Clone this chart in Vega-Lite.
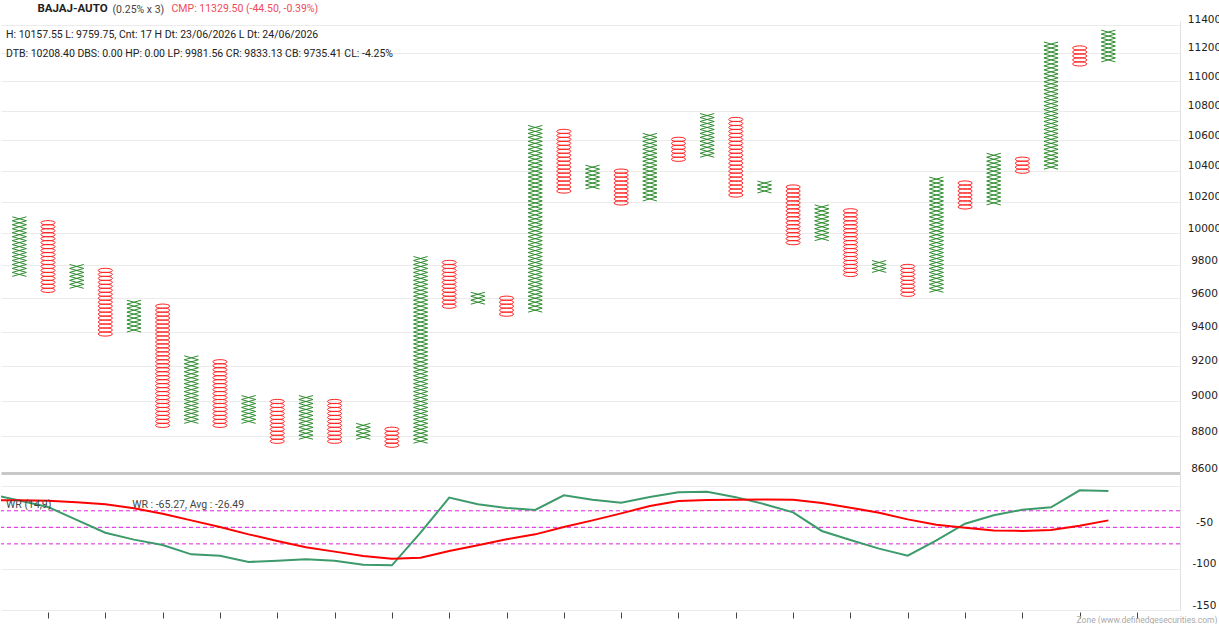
{
  "$schema": "https://vega.github.io/schema/vega-lite/v6.json",
  "padding": {"left": 0, "top": 3, "right": 0, "bottom": 0},
  "background": "#ffffff",
  "title": {
    "text": "(0.25% x 3)",
    "anchor": "start",
    "dx": 112,
    "offset": -12,
    "font": "Roboto",
    "fontSize": 10.5,
    "fontWeight": "normal",
    "color": "#444444"
  },
  "datasets": {
    "xs": [
      {"c":0,"b":50},{"c":0,"b":51},{"c":0,"b":52},{"c":0,"b":53},{"c":0,"b":54},{"c":0,"b":55},{"c":0,"b":56},{"c":0,"b":57},{"c":0,"b":58},{"c":0,"b":59},{"c":0,"b":60},{"c":0,"b":61},{"c":0,"b":62},{"c":0,"b":63},{"c":0,"b":64},
      {"c":2,"b":47},{"c":2,"b":48},{"c":2,"b":49},{"c":2,"b":50},{"c":2,"b":51},{"c":2,"b":52},
      {"c":4,"b":36},{"c":4,"b":37},{"c":4,"b":38},{"c":4,"b":39},{"c":4,"b":40},{"c":4,"b":41},{"c":4,"b":42},{"c":4,"b":43},
      {"c":6,"b":13},{"c":6,"b":14},{"c":6,"b":15},{"c":6,"b":16},{"c":6,"b":17},{"c":6,"b":18},{"c":6,"b":19},{"c":6,"b":20},{"c":6,"b":21},{"c":6,"b":22},{"c":6,"b":23},{"c":6,"b":24},{"c":6,"b":25},{"c":6,"b":26},{"c":6,"b":27},{"c":6,"b":28},{"c":6,"b":29},
      {"c":8,"b":13},{"c":8,"b":14},{"c":8,"b":15},{"c":8,"b":16},{"c":8,"b":17},{"c":8,"b":18},{"c":8,"b":19},
      {"c":10,"b":9},{"c":10,"b":10},{"c":10,"b":11},{"c":10,"b":12},{"c":10,"b":13},{"c":10,"b":14},{"c":10,"b":15},{"c":10,"b":16},{"c":10,"b":17},{"c":10,"b":18},{"c":10,"b":19},
      {"c":12,"b":9},{"c":12,"b":10},{"c":12,"b":11},{"c":12,"b":12},
      {"c":14,"b":8},{"c":14,"b":9},{"c":14,"b":10},{"c":14,"b":11},{"c":14,"b":12},{"c":14,"b":13},{"c":14,"b":14},{"c":14,"b":15},{"c":14,"b":16},{"c":14,"b":17},{"c":14,"b":18},{"c":14,"b":19},{"c":14,"b":20},{"c":14,"b":21},{"c":14,"b":22},{"c":14,"b":23},{"c":14,"b":24},{"c":14,"b":25},{"c":14,"b":26},{"c":14,"b":27},{"c":14,"b":28},{"c":14,"b":29},{"c":14,"b":30},{"c":14,"b":31},{"c":14,"b":32},{"c":14,"b":33},{"c":14,"b":34},{"c":14,"b":35},{"c":14,"b":36},{"c":14,"b":37},{"c":14,"b":38},{"c":14,"b":39},{"c":14,"b":40},{"c":14,"b":41},{"c":14,"b":42},{"c":14,"b":43},{"c":14,"b":44},{"c":14,"b":45},{"c":14,"b":46},{"c":14,"b":47},{"c":14,"b":48},{"c":14,"b":49},{"c":14,"b":50},{"c":14,"b":51},{"c":14,"b":52},{"c":14,"b":53},{"c":14,"b":54},
      {"c":16,"b":43},{"c":16,"b":44},{"c":16,"b":45},
      {"c":18,"b":41},{"c":18,"b":42},{"c":18,"b":43},{"c":18,"b":44},{"c":18,"b":45},{"c":18,"b":46},{"c":18,"b":47},{"c":18,"b":48},{"c":18,"b":49},{"c":18,"b":50},{"c":18,"b":51},{"c":18,"b":52},{"c":18,"b":53},{"c":18,"b":54},{"c":18,"b":55},{"c":18,"b":56},{"c":18,"b":57},{"c":18,"b":58},{"c":18,"b":59},{"c":18,"b":60},{"c":18,"b":61},{"c":18,"b":62},{"c":18,"b":63},{"c":18,"b":64},{"c":18,"b":65},{"c":18,"b":66},{"c":18,"b":67},{"c":18,"b":68},{"c":18,"b":69},{"c":18,"b":70},{"c":18,"b":71},{"c":18,"b":72},{"c":18,"b":73},{"c":18,"b":74},{"c":18,"b":75},{"c":18,"b":76},{"c":18,"b":77},{"c":18,"b":78},{"c":18,"b":79},{"c":18,"b":80},{"c":18,"b":81},{"c":18,"b":82},{"c":18,"b":83},{"c":18,"b":84},{"c":18,"b":85},{"c":18,"b":86},{"c":18,"b":87},
      {"c":20,"b":72},{"c":20,"b":73},{"c":20,"b":74},{"c":20,"b":75},{"c":20,"b":76},{"c":20,"b":77},
      {"c":22,"b":69},{"c":22,"b":70},{"c":22,"b":71},{"c":22,"b":72},{"c":22,"b":73},{"c":22,"b":74},{"c":22,"b":75},{"c":22,"b":76},{"c":22,"b":77},{"c":22,"b":78},{"c":22,"b":79},{"c":22,"b":80},{"c":22,"b":81},{"c":22,"b":82},{"c":22,"b":83},{"c":22,"b":84},{"c":22,"b":85},
      {"c":24,"b":80},{"c":24,"b":81},{"c":24,"b":82},{"c":24,"b":83},{"c":24,"b":84},{"c":24,"b":85},{"c":24,"b":86},{"c":24,"b":87},{"c":24,"b":88},{"c":24,"b":89},{"c":24,"b":90},
      {"c":26,"b":71},{"c":26,"b":72},{"c":26,"b":73},
      {"c":28,"b":59},{"c":28,"b":60},{"c":28,"b":61},{"c":28,"b":62},{"c":28,"b":63},{"c":28,"b":64},{"c":28,"b":65},{"c":28,"b":66},{"c":28,"b":67},
      {"c":30,"b":51},{"c":30,"b":52},{"c":30,"b":53},
      {"c":32,"b":46},{"c":32,"b":47},{"c":32,"b":48},{"c":32,"b":49},{"c":32,"b":50},{"c":32,"b":51},{"c":32,"b":52},{"c":32,"b":53},{"c":32,"b":54},{"c":32,"b":55},{"c":32,"b":56},{"c":32,"b":57},{"c":32,"b":58},{"c":32,"b":59},{"c":32,"b":60},{"c":32,"b":61},{"c":32,"b":62},{"c":32,"b":63},{"c":32,"b":64},{"c":32,"b":65},{"c":32,"b":66},{"c":32,"b":67},{"c":32,"b":68},{"c":32,"b":69},{"c":32,"b":70},{"c":32,"b":71},{"c":32,"b":72},{"c":32,"b":73},{"c":32,"b":74},
      {"c":34,"b":68},{"c":34,"b":69},{"c":34,"b":70},{"c":34,"b":71},{"c":34,"b":72},{"c":34,"b":73},{"c":34,"b":74},{"c":34,"b":75},{"c":34,"b":76},{"c":34,"b":77},{"c":34,"b":78},{"c":34,"b":79},{"c":34,"b":80},
      {"c":36,"b":77},{"c":36,"b":78},{"c":36,"b":79},{"c":36,"b":80},{"c":36,"b":81},{"c":36,"b":82},{"c":36,"b":83},{"c":36,"b":84},{"c":36,"b":85},{"c":36,"b":86},{"c":36,"b":87},{"c":36,"b":88},{"c":36,"b":89},{"c":36,"b":90},{"c":36,"b":91},{"c":36,"b":92},{"c":36,"b":93},{"c":36,"b":94},{"c":36,"b":95},{"c":36,"b":96},{"c":36,"b":97},{"c":36,"b":98},{"c":36,"b":99},{"c":36,"b":100},{"c":36,"b":101},{"c":36,"b":102},{"c":36,"b":103},{"c":36,"b":104},{"c":36,"b":105},{"c":36,"b":106},{"c":36,"b":107},{"c":36,"b":108},
      {"c":38,"b":104},{"c":38,"b":105},{"c":38,"b":106},{"c":38,"b":107},{"c":38,"b":108},{"c":38,"b":109},{"c":38,"b":110},{"c":38,"b":111}
    ],
    "os": [
      {"c":1,"b":46},{"c":1,"b":47},{"c":1,"b":48},{"c":1,"b":49},{"c":1,"b":50},{"c":1,"b":51},{"c":1,"b":52},{"c":1,"b":53},{"c":1,"b":54},{"c":1,"b":55},{"c":1,"b":56},{"c":1,"b":57},{"c":1,"b":58},{"c":1,"b":59},{"c":1,"b":60},{"c":1,"b":61},{"c":1,"b":62},{"c":1,"b":63},
      {"c":3,"b":35},{"c":3,"b":36},{"c":3,"b":37},{"c":3,"b":38},{"c":3,"b":39},{"c":3,"b":40},{"c":3,"b":41},{"c":3,"b":42},{"c":3,"b":43},{"c":3,"b":44},{"c":3,"b":45},{"c":3,"b":46},{"c":3,"b":47},{"c":3,"b":48},{"c":3,"b":49},{"c":3,"b":50},{"c":3,"b":51},
      {"c":5,"b":12},{"c":5,"b":13},{"c":5,"b":14},{"c":5,"b":15},{"c":5,"b":16},{"c":5,"b":17},{"c":5,"b":18},{"c":5,"b":19},{"c":5,"b":20},{"c":5,"b":21},{"c":5,"b":22},{"c":5,"b":23},{"c":5,"b":24},{"c":5,"b":25},{"c":5,"b":26},{"c":5,"b":27},{"c":5,"b":28},{"c":5,"b":29},{"c":5,"b":30},{"c":5,"b":31},{"c":5,"b":32},{"c":5,"b":33},{"c":5,"b":34},{"c":5,"b":35},{"c":5,"b":36},{"c":5,"b":37},{"c":5,"b":38},{"c":5,"b":39},{"c":5,"b":40},{"c":5,"b":41},{"c":5,"b":42},
      {"c":7,"b":12},{"c":7,"b":13},{"c":7,"b":14},{"c":7,"b":15},{"c":7,"b":16},{"c":7,"b":17},{"c":7,"b":18},{"c":7,"b":19},{"c":7,"b":20},{"c":7,"b":21},{"c":7,"b":22},{"c":7,"b":23},{"c":7,"b":24},{"c":7,"b":25},{"c":7,"b":26},{"c":7,"b":27},{"c":7,"b":28},
      {"c":9,"b":8},{"c":9,"b":9},{"c":9,"b":10},{"c":9,"b":11},{"c":9,"b":12},{"c":9,"b":13},{"c":9,"b":14},{"c":9,"b":15},{"c":9,"b":16},{"c":9,"b":17},{"c":9,"b":18},
      {"c":11,"b":8},{"c":11,"b":9},{"c":11,"b":10},{"c":11,"b":11},{"c":11,"b":12},{"c":11,"b":13},{"c":11,"b":14},{"c":11,"b":15},{"c":11,"b":16},{"c":11,"b":17},{"c":11,"b":18},
      {"c":13,"b":7},{"c":13,"b":8},{"c":13,"b":9},{"c":13,"b":10},{"c":13,"b":11},
      {"c":15,"b":42},{"c":15,"b":43},{"c":15,"b":44},{"c":15,"b":45},{"c":15,"b":46},{"c":15,"b":47},{"c":15,"b":48},{"c":15,"b":49},{"c":15,"b":50},{"c":15,"b":51},{"c":15,"b":52},{"c":15,"b":53},
      {"c":17,"b":40},{"c":17,"b":41},{"c":17,"b":42},{"c":17,"b":43},{"c":17,"b":44},
      {"c":19,"b":71},{"c":19,"b":72},{"c":19,"b":73},{"c":19,"b":74},{"c":19,"b":75},{"c":19,"b":76},{"c":19,"b":77},{"c":19,"b":78},{"c":19,"b":79},{"c":19,"b":80},{"c":19,"b":81},{"c":19,"b":82},{"c":19,"b":83},{"c":19,"b":84},{"c":19,"b":85},{"c":19,"b":86},
      {"c":21,"b":68},{"c":21,"b":69},{"c":21,"b":70},{"c":21,"b":71},{"c":21,"b":72},{"c":21,"b":73},{"c":21,"b":74},{"c":21,"b":75},{"c":21,"b":76},
      {"c":23,"b":79},{"c":23,"b":80},{"c":23,"b":81},{"c":23,"b":82},{"c":23,"b":83},{"c":23,"b":84},
      {"c":25,"b":70},{"c":25,"b":71},{"c":25,"b":72},{"c":25,"b":73},{"c":25,"b":74},{"c":25,"b":75},{"c":25,"b":76},{"c":25,"b":77},{"c":25,"b":78},{"c":25,"b":79},{"c":25,"b":80},{"c":25,"b":81},{"c":25,"b":82},{"c":25,"b":83},{"c":25,"b":84},{"c":25,"b":85},{"c":25,"b":86},{"c":25,"b":87},{"c":25,"b":88},{"c":25,"b":89},
      {"c":27,"b":58},{"c":27,"b":59},{"c":27,"b":60},{"c":27,"b":61},{"c":27,"b":62},{"c":27,"b":63},{"c":27,"b":64},{"c":27,"b":65},{"c":27,"b":66},{"c":27,"b":67},{"c":27,"b":68},{"c":27,"b":69},{"c":27,"b":70},{"c":27,"b":71},{"c":27,"b":72},
      {"c":29,"b":50},{"c":29,"b":51},{"c":29,"b":52},{"c":29,"b":53},{"c":29,"b":54},{"c":29,"b":55},{"c":29,"b":56},{"c":29,"b":57},{"c":29,"b":58},{"c":29,"b":59},{"c":29,"b":60},{"c":29,"b":61},{"c":29,"b":62},{"c":29,"b":63},{"c":29,"b":64},{"c":29,"b":65},{"c":29,"b":66},
      {"c":31,"b":45},{"c":31,"b":46},{"c":31,"b":47},{"c":31,"b":48},{"c":31,"b":49},{"c":31,"b":50},{"c":31,"b":51},{"c":31,"b":52},
      {"c":33,"b":67},{"c":33,"b":68},{"c":33,"b":69},{"c":33,"b":70},{"c":33,"b":71},{"c":33,"b":72},{"c":33,"b":73},
      {"c":35,"b":76},{"c":35,"b":77},{"c":35,"b":78},{"c":35,"b":79},
      {"c":37,"b":103},{"c":37,"b":104},{"c":37,"b":105},{"c":37,"b":106},{"c":37,"b":107}
    ],
    "wr": [
      {"c":-1,"wr":-10.0,"avg":-17.0},
      {"c":0,"wr":-17.5,"avg":-17.4},
      {"c":1,"wr":-25.4,"avg":-18.0},
      {"c":2,"wr":-41.0,"avg":-19.8},
      {"c":3,"wr":-56.5,"avg":-22.2},
      {"c":4,"wr":-64.9,"avg":-27.0},
      {"c":5,"wr":-71.4,"avg":-33.5},
      {"c":6,"wr":-82.7,"avg":-41.6},
      {"c":7,"wr":-84.3,"avg":-49.6},
      {"c":8,"wr":-91.9,"avg":-58.5},
      {"c":9,"wr":-90.3,"avg":-66.5},
      {"c":10,"wr":-88.7,"avg":-74.2},
      {"c":11,"wr":-90.3,"avg":-79.4},
      {"c":12,"wr":-95.2,"avg":-84.7},
      {"c":13,"wr":-96.0,"avg":-87.9},
      {"c":14,"wr":-56.5,"avg":-86.7},
      {"c":15,"wr":-14.1,"avg":-78.6},
      {"c":16,"wr":-22.2,"avg":-71.8},
      {"c":17,"wr":-26.6,"avg":-64.5},
      {"c":18,"wr":-29.0,"avg":-58.5},
      {"c":19,"wr":-11.3,"avg":-49.6},
      {"c":20,"wr":-16.6,"avg":-41.6},
      {"c":21,"wr":-20.2,"avg":-33.1},
      {"c":22,"wr":-13.3,"avg":-24.2},
      {"c":23,"wr":-7.7,"avg":-18.1},
      {"c":24,"wr":-6.9,"avg":-16.9},
      {"c":25,"wr":-13.5,"avg":-16.6},
      {"c":26,"wr":-22.0,"avg":-16.2},
      {"c":27,"wr":-31.9,"avg":-16.6},
      {"c":28,"wr":-54.4,"avg":-20.6},
      {"c":29,"wr":-65.3,"avg":-26.2},
      {"c":30,"wr":-75.8,"avg":-32.3},
      {"c":31,"wr":-84.3,"avg":-40.4},
      {"c":32,"wr":-65.7,"avg":-46.8},
      {"c":33,"wr":-45.6,"avg":-50.4},
      {"c":34,"wr":-35.5,"avg":-53.7},
      {"c":35,"wr":-28.7,"avg":-54.4},
      {"c":36,"wr":-25.8,"avg":-53.2},
      {"c":37,"wr":-5.3,"avg":-48.0},
      {"c":38,"wr":-6.1,"avg":-41.6}
    ],
    "levels": [
      {"v":-30},{"v":-50},{"v":-70}
    ]
  },
  "spacing": 0,
  "vconcat": [
    {
      "width": 1179,
      "height": 452,
      "title": {
        "text": "\u200b\u00a0\u00a0\u00a0\u00a0\u00a0\u00a0\u00a0\u00a0\u00a0\u00a0\u00a0BAJAJ-AUTO",
        "subtitle": [
          "H: 10157.55 L: 9759.75, Cnt: 17 H Dt: 23/06/2026 L Dt: 24/06/2026",
          "DTB: 10208.40 DBS: 0.00 HP: 0.00 LP: 9981.56 CR: 9833.13 CB: 9735.41 CL: -4.25%"
        ],
        "anchor": "start",
        "frame": "group",
        "dx": 5,
        "offset": -56,
        "font": "Roboto",
        "fontSize": 11.5,
        "fontWeight": "bold",
        "color": "#222222",
        "subtitleFont": "Roboto",
        "subtitleFontSize": 10.5,
        "subtitleColor": "#222222",
        "subtitlePadding": 15,
        "subtitleLineHeight": 19
      },
      "resolve": {"axis": {"x": "independent"}},
      "layer": [
        {
          "data": {"name": "xs"},
          "mark": {
            "type": "point",
            "shape": "M-1,-0.28L1,0.28M-1,0.28L1,-0.28",
            "size": 200,
            "filled": false,
            "color": "#2e8b2e",
            "strokeWidth": 1,
            "opacity": 1
          },
          "encoding": {
            "x": {
              "field": "c",
              "type": "quantitative",
              "scale": {"domain": [-0.64, 40.5], "nice": false, "zero": false},
              "axis": {
                "orient": "bottom",
                "labels": false,
                "ticks": false,
                "grid": false,
                "title": null,
                "domainColor": "#c8c8c8",
                "domainWidth": 3
              }
            },
            "y": {
              "field": "b",
              "type": "quantitative",
              "scale": {"domain": [0, 113.8], "nice": false, "zero": false},
              "axis": {
                "orient": "right",
                "title": null,
                "values": [0, 9.207, 18.208, 27.010, 35.623, 44.055, 52.313, 60.404, 68.335, 76.113, 83.741, 91.227, 98.576, 105.793, 112.881],
                "tickCount": 40,
                "labelExpr": "'' + round(8600 * pow(1.0025, datum.value) / 100) * 100",
                "ticks": false,
                "tickSize": 0,
                "labelPadding": 24,
                "labelAlign": "center",
                "labelBaseline": "bottom",
                "labelFlush": false,
                "labelOverlap": false,
                "labelFont": "DejaVu Sans",
                "labelFontSize": 10.5,
                "labelColor": "#222222",
                "grid": true,
                "gridColor": "#ebebeb",
                "domainColor": "#e2e2e2"
              }
            }
          }
        },
        {
          "data": {"name": "os"},
          "mark": {
            "type": "point",
            "shape": "M-1,0C-1,-0.4,1,-0.4,1,0C1,0.4,-1,0.4,-1,0Z",
            "size": 200,
            "filled": false,
            "color": "#ff2222",
            "strokeWidth": 1,
            "opacity": 1
          },
          "encoding": {
            "x": {
              "field": "c",
              "type": "quantitative",
              "scale": {"domain": [-0.64, 40.5], "nice": false, "zero": false},
              "axis": {
                "orient": "top",
                "labels": false,
                "ticks": false,
                "grid": false,
                "domain": false,
                "title": "CMP: 11329.50 (-44.50, -0.39%)",
                "titleX": 170,
                "titleY": -13,
                "titleAlign": "left",
                "titleBaseline": "middle",
                "titleFont": "Roboto",
                "titleFontSize": 10.5,
                "titleFontWeight": "normal",
                "titleColor": "#f04a5a"
              }
            },
            "y": {"field": "b", "type": "quantitative", "scale": {"domain": [0, 113.8], "nice": false, "zero": false}}
          }
        }
      ]
    },
    {
      "width": 1179,
      "height": 136,
      "title": {
        "text": "WR (14,9)\u00a0\u00a0\u00a0\u00a0\u00a0\u00a0\u00a0\u00a0\u00a0\u00a0\u00a0\u00a0\u00a0\u00a0\u00a0\u00a0\u00a0\u00a0\u00a0\u00a0\u00a0\u00a0\u00a0\u00a0\u00a0\u00a0\u00a0\u00a0\u00a0\u00a0\u00a0WR : -65.27, Avg : -26.49",
        "anchor": "start",
        "frame": "group",
        "dx": 5,
        "offset": -36,
        "font": "Roboto",
        "fontSize": 10.5,
        "fontWeight": "normal",
        "color": "#444444"
      },
      "layer": [
        {
          "data": {"name": "levels"},
          "mark": {"type": "rule", "color": "#e020e0", "strokeDash": [4, 3], "strokeWidth": 1},
          "encoding": {
            "y": {
              "field": "v",
              "type": "quantitative",
              "scale": {"domain": [-150, 14.5], "nice": false, "zero": false},
              "axis": {
                "orient": "right",
                "title": null,
                "values": [0, -50, -100, -150],
                "tickCount": 40,
                "labelExpr": "datum.value == 0 ? '' : '' + datum.value",
                "ticks": false,
                "tickSize": 0,
                "labelPadding": 24,
                "labelAlign": "center",
                "labelBaseline": "bottom",
                "labelFlush": false,
                "labelOverlap": false,
                "labelFont": "DejaVu Sans",
                "labelFontSize": 10.5,
                "labelColor": "#222222",
                "grid": true,
                "gridColor": "#ebebeb",
                "domainColor": "#e2e2e2"
              }
            }
          }
        },
        {
          "data": {"name": "wr"},
          "mark": {"type": "line", "color": "#3d9a6b", "strokeWidth": 2, "clip": true},
          "encoding": {
            "x": {
              "field": "c",
              "type": "quantitative",
              "scale": {"domain": [-0.64, 40.5], "nice": false, "zero": false},
              "axis": {
                "orient": "bottom",
                "values": [1, 3, 5, 7, 9, 11, 13, 15, 17, 19, 21, 23, 25, 27, 29, 31, 33, 35, 37, 39],
                "tickCount": 60,
                "labels": false,
                "ticks": true,
                "tickSize": 6,
                "tickColor": "#444444",
                "domain": false,
                "grid": false,
                "offset": 2,
                "title": "Zone (www.definedgesecurities.com)",
                "titleX": 1216,
                "titleY": 3,
                "titleAlign": "right",
                "titleBaseline": "top",
                "titleFont": "Roboto",
                "titleFontSize": 8.5,
                "titleFontWeight": "normal",
                "titleColor": "#aaaaaa"
              }
            },
            "y": {"field": "wr", "type": "quantitative", "scale": {"domain": [-150, 14.5], "nice": false, "zero": false}}
          }
        },
        {
          "data": {"name": "wr"},
          "mark": {"type": "line", "color": "#ff0000", "strokeWidth": 2, "clip": true},
          "encoding": {
            "x": {"field": "c", "type": "quantitative", "scale": {"domain": [-0.64, 40.5], "nice": false, "zero": false}},
            "y": {"field": "avg", "type": "quantitative", "scale": {"domain": [-150, 14.5], "nice": false, "zero": false}}
          }
        }
      ]
    }
  ],
  "config": {
    "view": {"stroke": null},
    "axis": {"labelFont": "DejaVu Sans"}
  }
}
